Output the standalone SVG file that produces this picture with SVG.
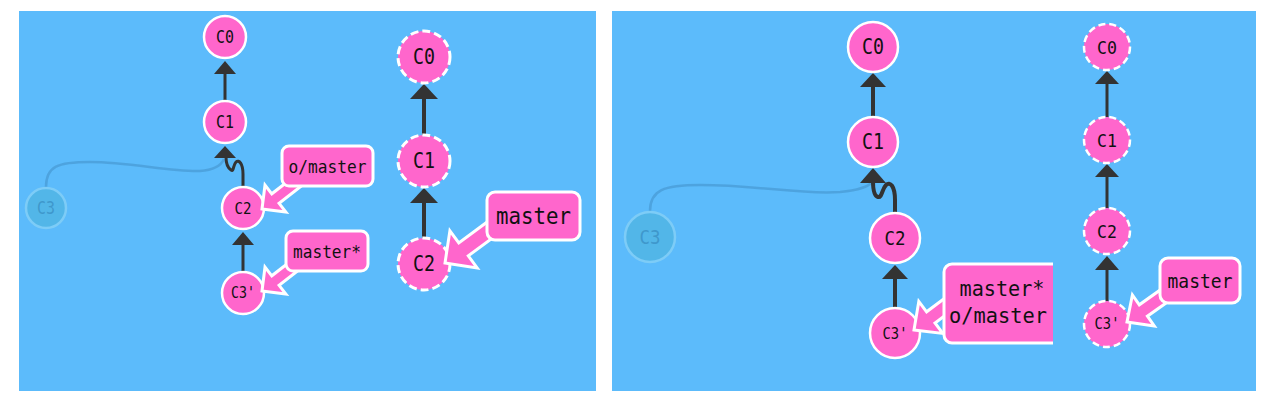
<svg xmlns="http://www.w3.org/2000/svg" width="1274" height="419" viewBox="0 0 1274 419">
<defs>
<style>
.panel{fill:#5cbbfb}
.node{fill:#ff66cc;stroke:#fff;stroke-width:2.5}
.dash{fill:#ff66cc;stroke:#fff;stroke-width:3;stroke-dasharray:8 4}
.dash2{fill:#ff66cc;stroke:#fff;stroke-width:2.5;stroke-dasharray:7 4}
.ghost{fill:#52b6e8;stroke:#7dccf7;stroke-width:2.5}
.gtxt{fill:#3f98cc;font-family:"DejaVu Sans Mono","Liberation Mono",monospace;text-anchor:middle;dominant-baseline:central}
.txt{fill:#111;font-family:"DejaVu Sans Mono","Liberation Mono",monospace;text-anchor:middle;dominant-baseline:central}
.edge{stroke:#333;stroke-width:3;fill:none}
.edgeb{stroke:#333;stroke-width:4;fill:none}
.head{fill:#333}
.gedge{stroke:#3c87bd;stroke-opacity:0.45;stroke-width:2.5;fill:none}
.ptr{fill:#ff66cc;stroke:#fff;stroke-width:3;stroke-linejoin:miter}
.box{fill:#ff66cc;stroke:#fff;stroke-width:3}
</style>
<clipPath id="clipR"><rect x="612" y="11" width="441" height="380"/></clipPath>
</defs>
<rect x="0" y="0" width="1274" height="419" fill="#fff"/>
<rect class="panel" x="19" y="11" width="577" height="380"/>
<rect class="panel" x="612" y="11" width="644" height="380"/>

<g id="connectors">
<path class="gedge" d="M46,187 C46,166 58,162 90,162 C130,162 170,172 200,171 C214,170 221,166 224,159"/>
<line class="edge" x1="225" y1="101" x2="225" y2="72"/>
<polygon class="head" points="225,61 214,74 236,74"/>
<path class="edge" d="M243,187 L243,174 C243,164 239,159 236,162 C233,165 234,172 231,170 C228,168 226,164 226,157"/>
<polygon class="head" points="225,146 214,158 236,158"/>
<line class="edge" x1="243" y1="272" x2="243" y2="243"/>
<polygon class="head" points="243,232 232,245 254,245"/>

<line class="edgeb" x1="424" y1="135" x2="424" y2="97"/>
<polygon class="head" points="424,84 410,99 438,99"/>
<line class="edgeb" x1="424" y1="238" x2="424" y2="201"/>
<polygon class="head" points="424,188 410,203 438,203"/>

<path class="gedge" d="M650,211 C650,190 664,185 700,185 C760,185 800,195 840,192 C860,190 868,187 872,182"/>
<line class="edgeb" x1="873" y1="116" x2="873" y2="85"/>
<polygon class="head" points="873,73 860,87 886,87"/>
<path class="edgeb" d="M895,213 L895,200 C895,186 890,181 886,185 C882,189 882,198 878,197 C874,196 873,190 873,181"/>
<polygon class="head" points="873,168 860,183 886,183"/>
<line class="edgeb" x1="895" y1="307" x2="895" y2="277"/>
<polygon class="head" points="895,265 882,279 908,279"/>

<line class="edge" x1="1107" y1="117" x2="1107" y2="82"/>
<polygon class="head" points="1107,71 1095,84 1119,84"/>
<line class="edge" x1="1107" y1="208" x2="1107" y2="175"/>
<polygon class="head" points="1107,164 1095,177 1119,177"/>
<line class="edge" x1="1107" y1="301" x2="1107" y2="268"/>
<polygon class="head" points="1107,256 1095,270 1119,270"/>
</g>

<g id="ghost-c3-left"><circle class="ghost" cx="46" cy="208" r="20"/><text class="gtxt" x="46" y="208" font-size="17" textLength="18" lengthAdjust="spacingAndGlyphs">C3</text></g>
<g id="c0-left"><circle class="node" cx="225" cy="37" r="21"/><text class="txt" x="225" y="37" font-size="17" textLength="18" lengthAdjust="spacingAndGlyphs">C0</text></g>
<g id="c1-left"><circle class="node" cx="225" cy="122" r="21"/><text class="txt" x="225" y="122" font-size="17" textLength="18" lengthAdjust="spacingAndGlyphs">C1</text></g>
<g id="c2-left"><circle class="node" cx="243" cy="208" r="21"/><text class="txt" x="243" y="208" font-size="16.5" textLength="17" lengthAdjust="spacingAndGlyphs">C2</text></g>
<g id="c3p-left"><circle class="node" cx="243" cy="293" r="21"/><text class="txt" x="243" y="293" font-size="15" textLength="24" lengthAdjust="spacingAndGlyphs">C3'</text></g>

<g id="omaster-left">
<polygon class="ptr" points="262,209 285.9,212 279.1,203.3 310.7,178.7 303.4,169.3 271.8,193.8 265,185.1"/>
<rect class="box" x="282" y="146" width="91" height="40" rx="7"/>
<text class="txt" x="327.5" y="166" font-size="18" textLength="78" lengthAdjust="spacingAndGlyphs">o/master</text>
</g>
<g id="master-left">
<polygon class="ptr" points="262,291 285.9,294 279.1,285.3 310.7,260.7 303.4,251.3 271.8,275.8 265,267.1"/>
<rect class="box" x="286" y="231" width="82" height="40" rx="7"/>
<text class="txt" x="327" y="251" font-size="18" textLength="68" lengthAdjust="spacingAndGlyphs">master*</text>
</g>

<g id="c0-remote-left"><circle class="dash" cx="424" cy="57" r="26"/><text class="txt" x="424" y="57" font-size="20.5" textLength="22" lengthAdjust="spacingAndGlyphs">C0</text></g>
<g id="c1-remote-left"><circle class="dash" cx="424" cy="161" r="26"/><text class="txt" x="424" y="161" font-size="20.5" textLength="22" lengthAdjust="spacingAndGlyphs">C1</text></g>
<g id="c2-remote-left"><circle class="dash" cx="424" cy="264" r="26"/><text class="txt" x="424" y="264" font-size="20.5" textLength="22" lengthAdjust="spacingAndGlyphs">C2</text></g>
<g id="master-remote-left">
<polygon class="ptr" points="445,263 477.2,267.9 468.3,255.8 504.5,229.1 495,216.2 458.8,242.9 449.9,230.8"/>
<rect class="box" x="487" y="192" width="93" height="48" rx="8"/>
<text class="txt" x="533.5" y="216" font-size="23.5" textLength="75" lengthAdjust="spacingAndGlyphs">master</text>
</g>

<g id="ghost-c3-right"><circle class="ghost" cx="650" cy="237" r="25"/><text class="gtxt" x="650" y="237" font-size="20" textLength="21" lengthAdjust="spacingAndGlyphs">C3</text></g>
<g id="c0-right"><circle class="node" cx="873" cy="47" r="25"/><text class="txt" x="873" y="47" font-size="20.5" textLength="22" lengthAdjust="spacingAndGlyphs">C0</text></g>
<g id="c1-right"><circle class="node" cx="873" cy="142" r="25"/><text class="txt" x="873" y="142" font-size="20.5" textLength="22" lengthAdjust="spacingAndGlyphs">C1</text></g>
<g id="c2-right"><circle class="node" cx="895" cy="238" r="25"/><text class="txt" x="895" y="238" font-size="20" textLength="21" lengthAdjust="spacingAndGlyphs">C2</text></g>
<g id="c3p-right"><circle class="node" cx="895" cy="333" r="25"/><text class="txt" x="895" y="333" font-size="16" textLength="25" lengthAdjust="spacingAndGlyphs">C3'</text></g>
<g id="labels-right" clip-path="url(#clipR)">
<polygon class="ptr" points="914,330 942.8,333.4 935,323 967,299 958.6,287.8 926.6,311.8 918.8,301.4"/>
<rect class="box" x="944" y="264" width="120" height="79" rx="8"/>
<text class="txt" x="1002" y="288" font-size="22" textLength="85" lengthAdjust="spacingAndGlyphs">master*</text>
<text class="txt" x="998" y="315" font-size="22" textLength="98" lengthAdjust="spacingAndGlyphs">o/master</text>
</g>

<g id="c0-remote-right"><circle class="dash2" cx="1107" cy="47" r="23"/><text class="txt" x="1107" y="47" font-size="18.5" textLength="20" lengthAdjust="spacingAndGlyphs">C0</text></g>
<g id="c1-remote-right"><circle class="dash2" cx="1107" cy="140" r="23"/><text class="txt" x="1107" y="140" font-size="18.5" textLength="20" lengthAdjust="spacingAndGlyphs">C1</text></g>
<g id="c2-remote-right"><circle class="dash2" cx="1107" cy="231" r="23"/><text class="txt" x="1107" y="231" font-size="18.5" textLength="20" lengthAdjust="spacingAndGlyphs">C2</text></g>
<g id="c3p-remote-right"><circle class="dash2" cx="1107" cy="324" r="23"/><text class="txt" x="1107" y="324" font-size="15.5" textLength="25" lengthAdjust="spacingAndGlyphs">C3'</text></g>
<g id="master-remote-right">
<polygon class="ptr" points="1127,322 1154.3,326 1147.4,316.2 1180,293.1 1171.9,281.7 1139.3,304.8 1132.4,295"/>
<rect class="box" x="1160" y="258" width="80" height="45" rx="8"/>
<text class="txt" x="1200" y="280.5" font-size="20" textLength="65" lengthAdjust="spacingAndGlyphs">master</text>
</g>
</svg>
